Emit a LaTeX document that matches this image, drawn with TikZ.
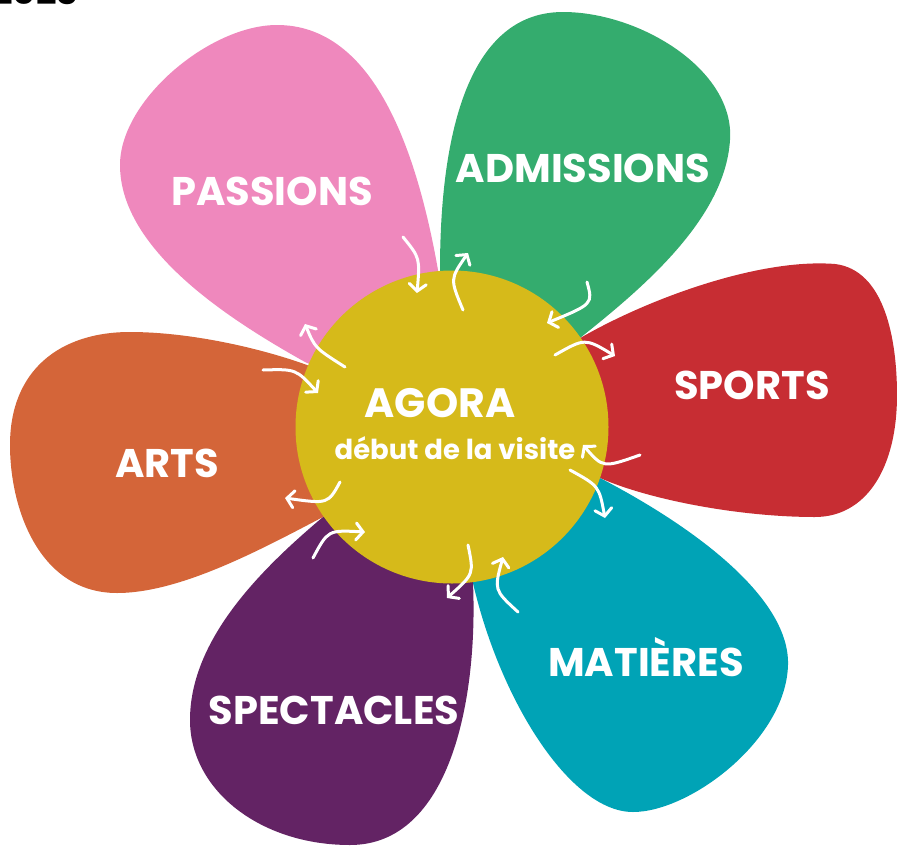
\documentclass[tikz,border=0pt]{standalone}
\usepackage{fontspec}
\setmainfont{Poppins}
\usetikzlibrary{arrows.meta}

\definecolor{passionsPink}{HTML}{EF88BD}
\definecolor{admissionsGreen}{HTML}{34AC6E}
\definecolor{sportsRed}{HTML}{C72D33}
\definecolor{matieresTeal}{HTML}{00A3B6}
\definecolor{spectaclesPurple}{HTML}{632364}
\definecolor{artsOrange}{HTML}{D46539}
\definecolor{agoraYellow}{HTML}{D6BA1A}

\tikzstyle{petaltext} = [text=white, font=\bfseries\fontsize{40}{42}\selectfont]
\tikzstyle{arrow} = [white, line width=3pt, line cap=round, -{Straight Barb[length=7pt,width=17pt,line cap=round]}]

\begin{document}
\begin{tikzpicture}[x=1pt, y=-1pt]
    \clip (0,0) rectangle (897,846);
    % year, cut by the top edge
    \node (year) [anchor=base west, inner sep=0pt, font=\bfseries\fontsize{36}{36}\selectfont] at (-8,4) {2023};

    % petals
    \fill [passionsPink] (452,427) -- (438,270) .. controls (415,140) and (370,25) .. (277,25) .. controls (210,25) and (120,100) .. (120,165) .. controls (120,250) and (230,320) .. (305,362) -- cycle;
    \fill [admissionsGreen] (452,427) -- (440,270) .. controls (440,130) and (470,12) .. (563,12) .. controls (640,12) and (735,70) .. (730,140) .. controls (725,220) and (640,290) .. (580,338) -- cycle;
    \fill [sportsRed] (452,427) -- (582,337) .. controls (650,298) and (760,258) .. (835,264) .. controls (885,270) and (897,340) .. (897,395) .. controls (897,470) and (865,517) .. (815,517) .. controls (740,517) and (650,500) .. (600,478) -- cycle;
    \fill [matieresTeal] (452,427) -- (600,478) .. controls (700,530) and (790,600) .. (788,665) .. controls (786,740) and (690,812) .. (633,812) .. controls (570,812) and (500,700) .. (473,583) -- cycle;
    \fill [spectaclesPurple] (452,427) -- (473,583) .. controls (478,700) and (450,845) .. (350,845) .. controls (260,845) and (190,790) .. (190,720) .. controls (190,640) and (260,570) .. (323,517) -- cycle;
    \fill [artsOrange] (452,427) -- (323,517) .. controls (260,550) and (180,593) .. (117,593) .. controls (40,593) and (10,510) .. (10,445) .. controls (10,370) and (60,332) .. (130,332) .. controls (190,332) and (260,348) .. (307,365) -- cycle;

    % centre
    \node (agora) [circle, fill=agoraYellow, minimum size=313pt, inner sep=0pt] at (452,427) {};
    \node (agoraTitle) [petaltext, font=\bfseries\fontsize{41}{42}\selectfont] at (440,403) {AGORA};
    \node (agoraSub) [petaltext, font=\bfseries\fontsize{27.5}{28}\selectfont] at (455,448) {début de la visite};

    \node (passions) [petaltext] at (272,191) {PASSIONS};
    \node (admissions) [petaltext] at (583,168) {ADMISSIONS};
    \node (sports) [petaltext] at (752,385) {SPORTS};
    \node (matieres) [petaltext] at (646,657) {MATIÈRES};
    \node (spectacles) [petaltext] at (334,710) {SPECTACLES};
    \node (arts) [petaltext] at (167,463) {ARTS};

    % arrow ends
    \coordinate (passionsInA) at (403,237);
    \coordinate (passionsInB) at (417,293);
    \coordinate (passionsOutA) at (345,367);
    \coordinate (passionsOutB) at (305,324);
    \coordinate (admissionsOutA) at (463,310);
    \coordinate (admissionsOutB) at (468,253);
    \coordinate (admissionsInA) at (587,282);
    \coordinate (admissionsInB) at (547,323);
    \coordinate (sportsOutA) at (555,355);
    \coordinate (sportsOutB) at (615,356);
    \coordinate (sportsInA) at (640,455);
    \coordinate (sportsInB) at (583,445);
    \coordinate (matieresOutA) at (570,470);
    \coordinate (matieresOutB) at (605,518);
    \coordinate (matieresInA) at (518,612);
    \coordinate (matieresInB) at (503,557);
    \coordinate (spectaclesOutA) at (468,545);
    \coordinate (spectaclesOutB) at (447,598);
    \coordinate (spectaclesInA) at (313,558);
    \coordinate (spectaclesInB) at (365,532);
    \coordinate (artsOutA) at (340,482);
    \coordinate (artsOutB) at (285,498);
    \coordinate (artsInA) at (263,370);
    \coordinate (artsInB) at (318,393);

    % arrows
    \draw [arrow] (passionsInA) .. controls (420,258) .. (passionsInB);
    \draw [arrow] (passionsOutA) .. controls (315,348) .. (passionsOutB);
    \draw [arrow] (admissionsOutA) .. controls (450,279) .. (admissionsOutB);
    \draw [arrow] (admissionsInA) .. controls (593,304) .. (admissionsInB);
    \draw [arrow] (sportsOutA) .. controls (585,338) .. (sportsOutB);
    \draw [arrow] (sportsInA) .. controls (603,468) .. (sportsInB);
    \draw [arrow] (matieresOutA) .. controls (599,486) .. (matieresOutB);
    \draw [arrow] (matieresInA) .. controls (494,590) .. (matieresInB);
    \draw [arrow] (spectaclesOutA) .. controls (474,574) .. (spectaclesOutB);
    \draw [arrow] (spectaclesInA) .. controls (328,530) .. (spectaclesInB);
    \draw [arrow] (artsOutA) .. controls (328,504) .. (artsOutB);
    \draw [arrow] (artsInA) .. controls (296,369) .. (artsInB);
\end{tikzpicture}
\end{document}
